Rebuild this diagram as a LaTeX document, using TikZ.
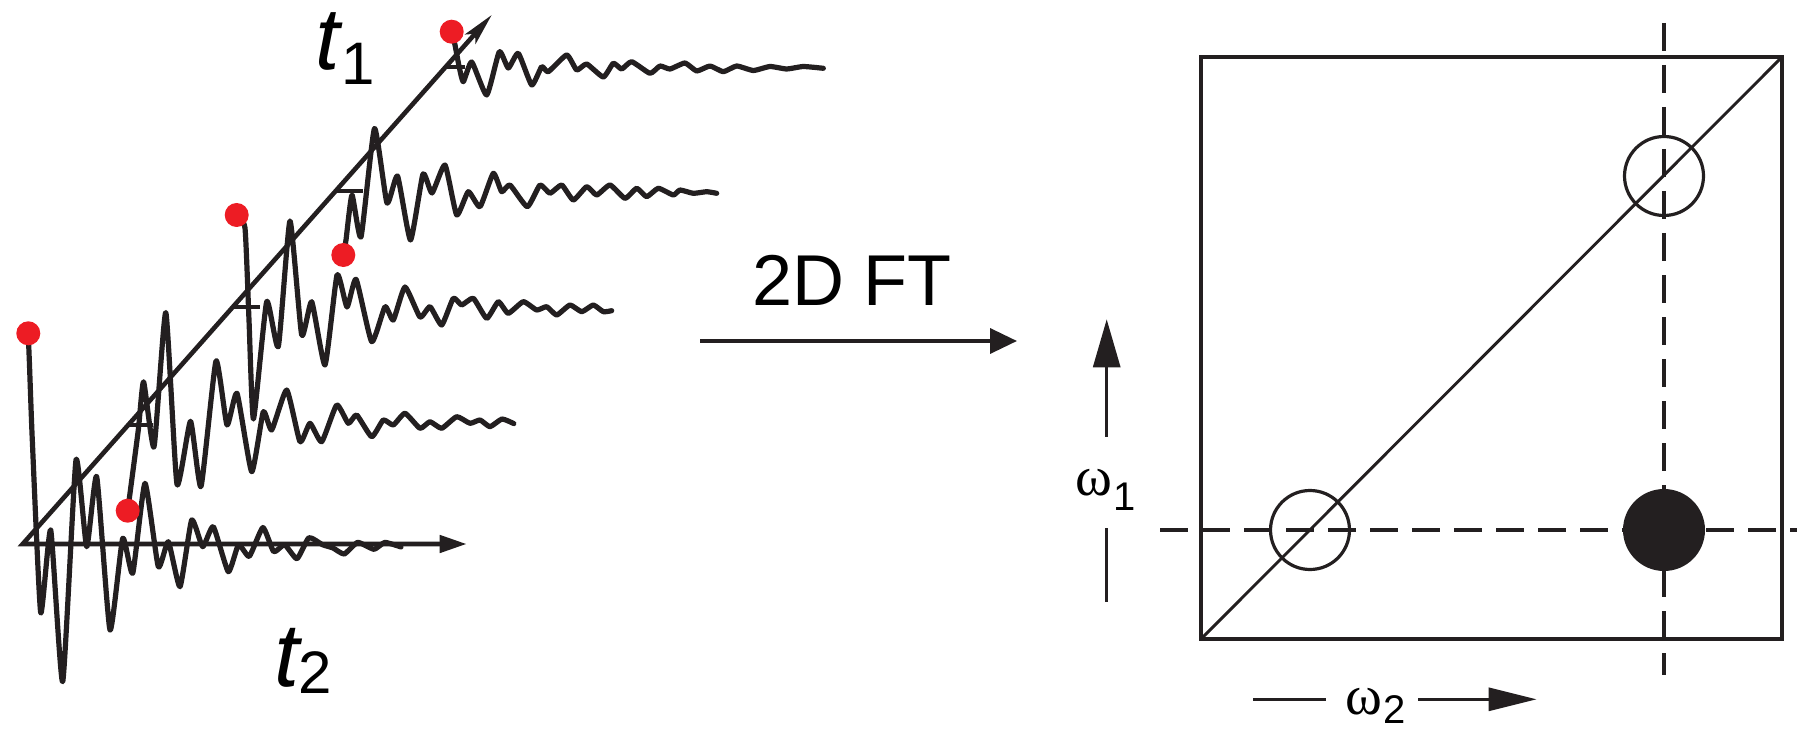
\documentclass[tikz,border=0pt]{standalone}
\usepackage{fontspec}
\setmainfont{Liberation Sans}
\newfontfamily\omegafont{Liberation Serif}
\usetikzlibrary{arrows.meta}
\definecolor{ink}{HTML}{231F20}
\definecolor{dotred}{HTML}{ED1C24}
\begin{document}
\begin{tikzpicture}[x=1pt,y=-1pt,
  trace/.style={draw=ink, line width=5.2pt, line join=round, line cap=round},
  axisline/.style={draw=ink, line width=4.6pt},
  tickline/.style={draw=ink, line width=4.6pt},
  reddot/.style={circle, fill=dotred, minimum size=24pt, inner sep=0pt},
  frameline/.style={draw=ink, line width=3.5pt},
  dashline/.style={draw=ink, line width=3.3pt, dash pattern=on 28pt off 14pt},
  openpeak/.style={circle, draw=ink, line width=3.2pt, minimum size=79pt, inner sep=0pt},
  fullpeak/.style={circle, fill=ink, minimum size=82pt, inner sep=0pt},
  lbl/.style={inner sep=0pt, anchor=base west},
  thinarrow/.style={draw=ink, line width=3pt}
]
\useasboundingbox (0,0) rectangle (1802,730);

% ---------- time-domain traces ----------
\draw[trace] plot[smooth, tension=0.3] coordinates {(28.3,335) (29.5,365) (32.3,440) (40.7,612.7) (50.7,530) (62.7,681.7) (76,460) (86.7,546.7) (96.7,476.7) (110,630) (122.7,538.3) (132.7,573.3) (145,483.3) (158.3,566.7) (168.3,541.7) (180,586.7) (191.7,520) (202.7,546.7) (213.3,526.7) (228.3,571.7) (238.5,544.7) (249.3,556.3) (262.9,527.5) (273.7,551.7) (284.6,544.7) (297,558.7) (308.9,537.7) (322.5,544.7) (333,548) (344.2,554) (357.7,542.4) (374,549.3) (384.8,542.4) (401,547)};

\draw[trace] plot[smooth, tension=0.3] coordinates {(127.7,510.7) (138.3,430) (143.6,381.8) (154,446.9) (165.8,312.5) (177,484.2) (190.5,421.3) (201,486.5) (216,361) (227,425) (237,393.3) (251.7,471.7) (263.3,411.7) (271.7,430) (286.7,390) (300,441.7) (310,423.3) (321.7,441.7) (336.7,405) (348.3,423.3) (356.7,415) (371.7,436.7) (383.3,420) (393.3,425) (405,413.3) (420,428.3) (430,421.7) (441.7,428.3) (456.7,416.7) (470,423.3) (480,420) (490,426.7) (502,419) (513.8,423.6)};

\draw[trace] plot[smooth, tension=0.3] coordinates {(236.7,215) (245,228) (249,320) (253.5,419) (266.7,301.7) (278.3,346.7) (290,221) (301.7,335) (311.7,301.7) (325,365) (337.1,274.7) (347,307) (356.1,279.3) (371.7,341.7) (385,306.7) (393.3,320) (405,287) (420,317) (430,306.7) (441.7,325) (453.3,298.3) (461.7,305) (473.3,298.3) (486.7,318.3) (498.3,301.7) (508.3,313.3) (523.3,301.7) (536.7,310) (546.7,306.7) (556.7,315) (570,305) (581.7,311.7) (593.3,305) (603.3,311.7) (611.7,310.7)};

\draw[trace] plot[smooth, tension=0.3] coordinates {(343.3,255) (346,240) (352,195) (361,237) (374.5,128.5) (387,203) (397.5,176) (410.5,240) (423,174) (432,193) (445,165) (456.7,215) (468.3,191.7) (480,206.7) (493.3,173.3) (501.7,191.7) (510,185) (527.3,206.7) (540,185) (550,193.3) (561.7,185) (573.3,200) (586.7,186.7) (596.7,195) (610,185) (625,198.3) (636.7,188.3) (646.7,196.7) (658.3,188.3) (673.3,195) (680,190) (693.3,193.3) (706.7,191.7) (716.7,193.3)};

\draw[trace] plot[smooth, tension=0.3] coordinates {(451.7,31.7) (455,45) (459,66) (463.3,81.7) (471.7,62) (486.7,95) (499.3,51.7) (508.3,68) (518.3,53.3) (531.7,85) (541.7,66.7) (548.3,71.7) (566.7,55) (576.7,70) (586.7,64) (603.3,77) (613.3,63.3) (621.7,69) (631.7,61.7) (650,73.3) (660,66) (670,69) (685,63) (696.7,71) (710,66) (723.3,71.7) (736.7,66) (753.3,70.5) (770,66.5) (786.7,69) (803.3,66.5) (823.3,68.3)};

% baseline ticks on the t1 axis
\coordinate (k2a) at (128,425);   \coordinate (k2b) at (153,425);
\coordinate (k3a) at (233,307);   \coordinate (k3b) at (260,307);
\coordinate (k4a) at (336,191);   \coordinate (k4b) at (363,191);
\coordinate (k5a) at (445.5,67);  \coordinate (k5b) at (465,67);
\draw[tickline] (k2a) -- (k2b);
\draw[tickline] (k3a) -- (k3b);
\draw[tickline] (k4a) -- (k4b);
\draw[tickline] (k5a) -- (k5b);

% axes
\coordinate (O) at (22.7,544);
\coordinate (t1tip) at (491.7,15);
\coordinate (t2tip) at (466.7,544);
\draw[axisline, {Stealth[length=32pt,width=14pt,inset=7pt]}-{Triangle[length=27pt,width=17pt]}] (t1tip) -- (O) -- (t2tip);

% red first points
\node[reddot] (d1) at (28.3,333.3) {};
\node[reddot] (d2) at (127.7,510.7) {};
\node[reddot] (d3) at (236.7,215) {};
\node[reddot] (d4) at (343.3,255) {};
\node[reddot] (d5) at (451.7,31.7) {};

% axis labels
\node[lbl] (t1l) at (315,70) {\fontsize{88}{88}\selectfont\itshape t};
\node[lbl] (t1s) at (341,85) {\fontsize{60}{60}\selectfont 1};
\node[lbl] (t2l) at (274,686) {\fontsize{90}{90}\selectfont\itshape t};
\node[lbl] (t2s) at (298,693) {\fontsize{60}{60}\selectfont 2};

% ---------- 2D FT arrow ----------
\node[anchor=base] (ft) at (852,305) {\fontsize{72}{72}\selectfont 2D FT};
\coordinate (ftA) at (700,341);
\coordinate (ftB) at (1017,341);
\draw[draw=ink, line width=3.6pt, -{Triangle[length=27pt,width=25pt]}] (ftA) -- (ftB);

% ---------- 2D spectrum ----------
\coordinate (sqA) at (1201,639);
\coordinate (sqB) at (1782,57);
\draw[frameline] (sqA) rectangle (sqB);
\draw[draw=ink, line width=2.9pt] (sqA) -- (sqB);

\coordinate (vA) at (1664,23);  \coordinate (vB) at (1664,675);
\coordinate (hA) at (1160,530); \coordinate (hB) at (1797,530);
\draw[dashline] (vA) -- (vB);
\draw[dashline] (hA) -- (hB);

\node[openpeak] (p1) at (1310,530) {};
\node[openpeak] (p2) at (1664,176) {};
\node[fullpeak] (p3) at (1664,530) {};

% omega axes
\coordinate (w1a) at (1106.7,436.7); \coordinate (w1b) at (1106.7,319.3);
\coordinate (w1c) at (1106.7,528.3); \coordinate (w1d) at (1106.7,601.7);
\draw[thinarrow, -{Triangle[length=48pt,width=27pt]}] (w1a) -- (w1b);
\draw[thinarrow] (w1c) -- (w1d);
\node[lbl] (w1l) at (1075,495) {\omegafont\fontsize{56}{56}\selectfont ω};
\node[lbl] (w1s) at (1113,510) {\fontsize{40}{40}\selectfont 1};

\coordinate (w2a) at (1253.3,699.3); \coordinate (w2b) at (1326,699.3);
\coordinate (w2c) at (1418.3,699.3); \coordinate (w2d) at (1536.7,699.3);
\draw[thinarrow] (w2a) -- (w2b);
\draw[thinarrow, -{Triangle[length=48pt,width=23pt]}] (w2c) -- (w2d);
\node[lbl] (w2l) at (1345,714) {\omegafont\fontsize{56}{56}\selectfont ω};
\node[lbl] (w2s) at (1383,723) {\fontsize{40}{40}\selectfont 2};
\end{tikzpicture}
\end{document}
